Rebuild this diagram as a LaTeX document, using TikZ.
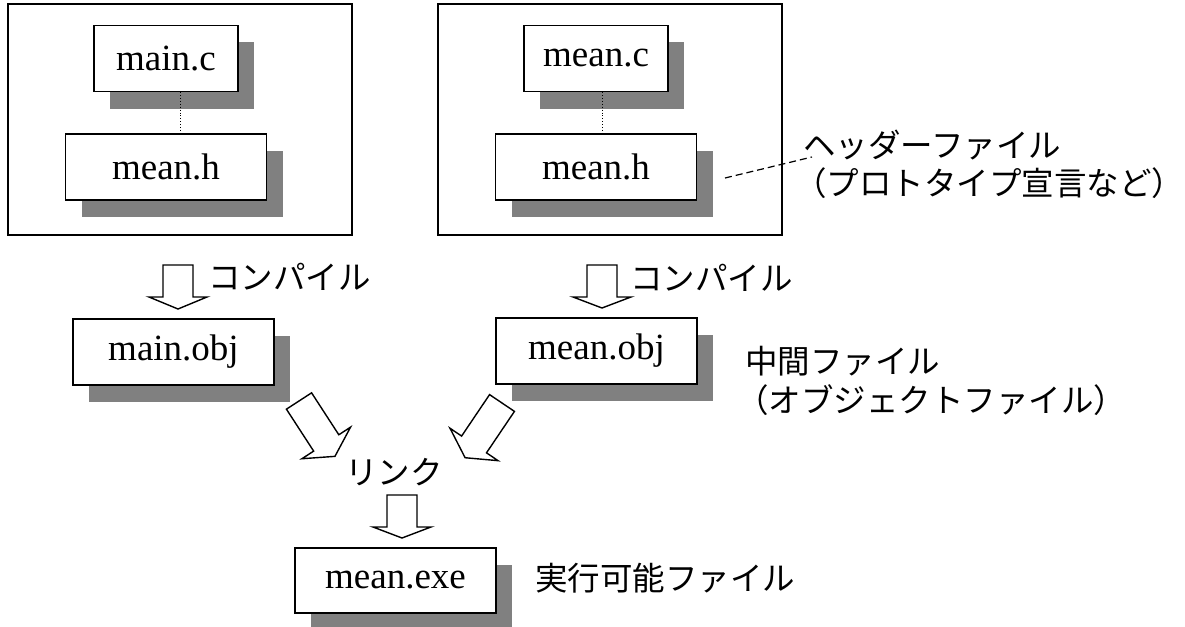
\documentclass[tikz,border=0pt]{standalone}
\usepackage{fontspec}
\setmainfont{Liberation Serif}
\newfontfamily\jpfont{Noto Sans CJK JP}
\usetikzlibrary{shadows}

\tikzset{
  filebox/.style={draw, line width=1.4pt, fill=white, minimum width=201pt, minimum height=66pt, inner sep=0pt,
    font=\fontsize{37}{40}\selectfont,
    drop shadow={shadow xshift=16pt, shadow yshift=-17pt, fill=black!50, opacity=1}},
  srcbox/.style={draw, line width=1.4pt, minimum width=344pt, minimum height=231pt, inner sep=0pt},
  jp/.style={font=\jpfont\fontsize{32.5}{36}\selectfont, inner sep=0pt},
  pics/blockarrow/.style 2 args={code={
    \draw[line width=1.4pt, fill=white] (-15,0) -- (-15,#1-#2) -- (-29,#1-#2) -- (0,#1) -- (29,#1-#2) -- (15,#1-#2) -- (15,0) -- cycle;
  }}
}

\begin{document}
\begin{tikzpicture}[x=1pt, y=-1pt]
\useasboundingbox (0,0) rectangle (1185,626);
% source folders
\node[srcbox] (srcl) at (180,119.5){};
\node[srcbox] (srcr) at (610,119.5){};
\node[filebox, minimum width=144pt] (mainc) at (166,58.5){main.c};
\node[filebox] (meanhl) at (166,167){mean.h};
\node[filebox, minimum width=144pt] (meanc) at (596,58.5){mean.c};
\node[filebox] (meanhr) at (596,167){mean.h};
\draw[dotted, line width=0.9pt]([xshift=14pt]mainc.south) -- ([xshift=14pt]mainc.south |- meanhl.north);
\draw[dotted, line width=0.9pt]([xshift=6pt]meanc.south) -- ([xshift=6pt]meanc.south |- meanhr.north);
% header note
\node[jp, anchor=west] (hdr) at (803,145){ヘッダーファイル};
\node[jp, anchor=west] (proto) at (794,183){（プロトタイプ宣言など）};
\coordinate (hdrfrom) at (725,178);
\coordinate (hdrto) at (812,157);
\draw[dashed, line width=1.2pt, dash pattern=on 7pt off 4pt](hdrfrom) -- (hdrto);
% compile
\pic at (178,265){blockarrow={44}{12}};
\pic at (602,265){blockarrow={43}{11}};
\node[jp, anchor=west] (compl) at (208,277){コンパイル};
\node[jp, anchor=west] (compr) at (630,278){コンパイル};
\node[filebox] (mainobj) at (173.5,352){main.obj};
\node[filebox] (meanobj) at (596.5,351){mean.obj};
\node[jp, anchor=west] (mid) at (745,361){中間ファイル};
\node[jp, anchor=west] (objf) at (736,400){（オブジェクトファイル）};
% link
\pic[rotate=33] at (299,401){blockarrow={66}{16}};
\pic[rotate=-34] at (502,403){blockarrow={66}{16}};
\node[jp] (link) at (394,472){リンク};
\pic at (402,495){blockarrow={43}{11}};
\node[filebox, minimum height=65pt] (meanexe) at (395.5,580.5){mean.exe};
\node[jp, anchor=west] (exe) at (535,578){実行可能ファイル};
\end{tikzpicture}
\end{document}
